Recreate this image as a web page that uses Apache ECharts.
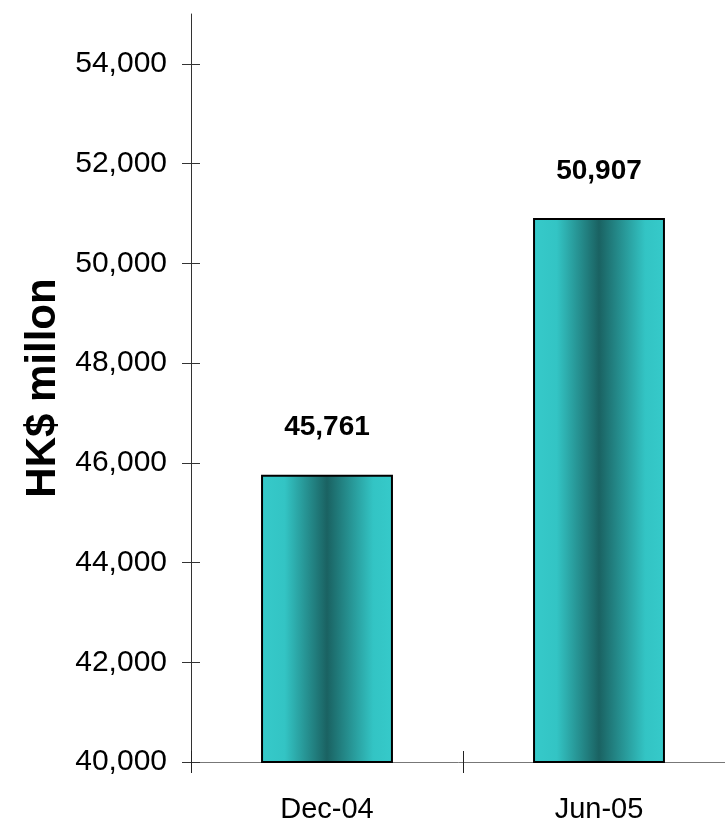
<!DOCTYPE html>
<html>
<head>
<meta charset="utf-8">
<script src="https://cdn.jsdelivr.net/npm/echarts@6/dist/echarts.min.js"></script>
<style>
html, body { margin: 0; padding: 0; background: #fff; }
#main { width: 725px; height: 824px; }
</style>
</head>
<body>
<div id="main"></div>
<script>
var categories = ['Dec-04', 'Jun-05'];
var values = [45761, 50907];
var yTicks = [40000, 42000, 44000, 46000, 48000, 50000, 52000, 54000];

var font = "'Liberation Sans', Arial, sans-serif";
var myChart = echarts.init(document.getElementById('main'));

// cylinder-like shading: light edges, dark middle
var barColor = new echarts.graphic.LinearGradient(0, 0, 1, 0, [
    { offset: 0, color: '#36CACA' },
    { offset: 0.18, color: '#33C4C4' },
    { offset: 0.5, color: '#1A6262' },
    { offset: 0.85, color: '#33C4C4' },
    { offset: 1, color: '#36CACA' }
]);

var fmt = function (v) { return Number(v).toLocaleString('en-US'); };

var option = {
    backgroundColor: '#fff',
    animation: false,
    grid: { left: 191, top: 14, width: 544, bottom: 62, outerBoundsMode: 'none', containLabel: false },
    xAxis: [
        {
            type: 'category',
            data: categories,
            axisLine: { show: true, lineStyle: { color: '#777', width: 1 } },
            axisTick: { show: true, length: 11, lineStyle: { color: '#222' } },
            axisLabel: { color: '#000', fontFamily: font, fontSize: 29, margin: 33 }
        },
        {
            type: 'category',
            data: categories,
            position: 'bottom',
            axisLine: { show: false },
            axisTick: { show: true, inside: true, length: 11, lineStyle: { color: '#222' } },
            axisLabel: { show: false }
        }
    ],
    yAxis: [
        {
            type: 'value',
            min: 40000,
            max: 55000,
            interval: 2000,
            name: 'HK$ millon',
            nameLocation: 'middle',
            nameRotate: 90,
            nameGap: 124,
            nameTextStyle: { color: '#000', fontFamily: font, fontSize: 42, fontWeight: 'bold' },
            splitLine: { show: false },
            axisLine: { show: true, lineStyle: { color: '#333', width: 1 } },
            axisTick: { show: true, length: 9, customValues: yTicks, lineStyle: { color: '#333' } },
            axisLabel: { color: '#000', fontFamily: font, fontSize: 30, margin: 24, customValues: yTicks, formatter: fmt }
        },
        {
            type: 'value',
            min: 40000,
            max: 55000,
            position: 'left',
            splitLine: { show: false },
            axisLine: { show: false },
            axisTick: { show: true, inside: true, length: 9, customValues: yTicks, lineStyle: { color: '#333' } },
            axisLabel: { show: false }
        }
    ],
    series: [
        {
            type: 'bar',
            data: values,
            barWidth: '48.5%',
            itemStyle: { color: barColor, borderColor: '#000', borderWidth: 2 },
            label: {
                show: true,
                position: 'top',
                distance: 33,
                color: '#000',
                fontFamily: font,
                fontSize: 28,
                fontWeight: 'bold',
                formatter: function (p) { return fmt(p.value); }
            }
        }
    ]
};
myChart.setOption(option);
</script>
</body>
</html>
